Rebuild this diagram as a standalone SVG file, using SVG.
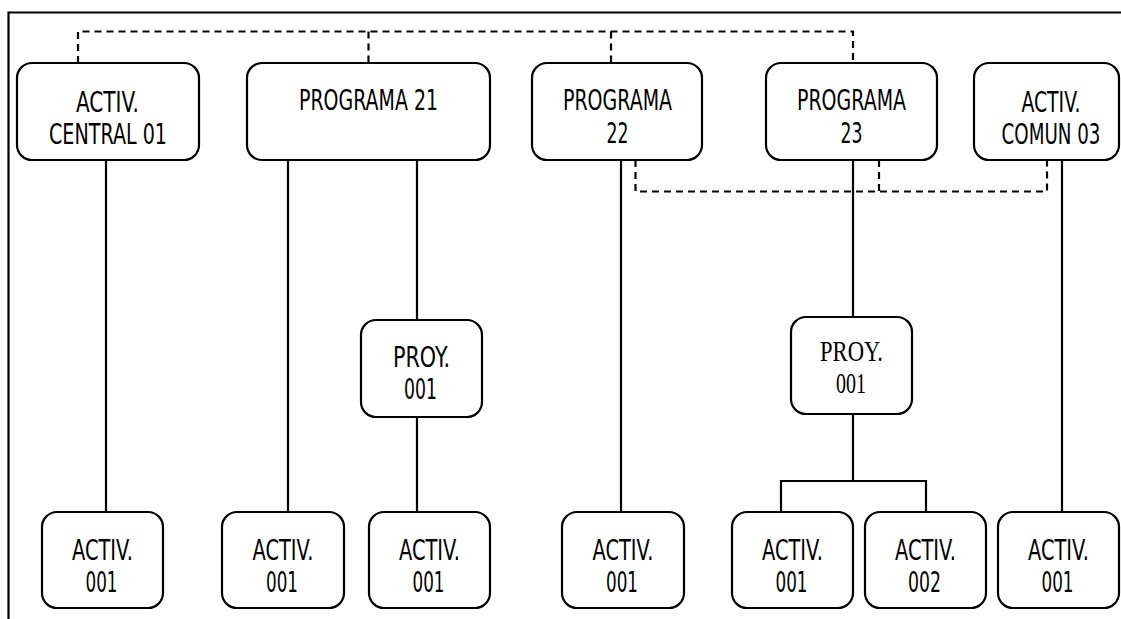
<svg xmlns="http://www.w3.org/2000/svg" width="1121" height="619" viewBox="0 0 1121 619">
<style>
.box{fill:#fff;stroke:#000;stroke-width:2.2}
.t{font-family:"DejaVu Sans","Liberation Sans",sans-serif;font-size:29px;fill:#000;text-anchor:middle}
.s{font-family:"Liberation Serif","DejaVu Serif",serif;font-size:29px;fill:#000;text-anchor:middle}
.ln{stroke:#000;stroke-width:2.2;fill:none}
.dl{stroke:#000;stroke-width:2.2;fill:none;stroke-dasharray:7 5}
</style>
<rect width="1121" height="619" fill="#fff"/>
<g id="frame">
<path class="ln" d="M8.5 619 V12.5 H1121"/>
</g>
<g id="connectors">
<path class="dl" d="M78 63 V31.5 H853 V63"/>
<path class="dl" d="M368.5 31.5 V63"/>
<path class="dl" d="M611 31.5 V63"/>
<path class="dl" d="M635.5 160 V191.5 H1047 V160"/>
<path class="dl" d="M879 160 V191.5"/>
<path class="ln" d="M106 160 V512"/>
<path class="ln" d="M288 160 V512"/>
<path class="ln" d="M417 160 V320"/>
<path class="ln" d="M417 417 V512"/>
<path class="ln" d="M621 160 V512"/>
<path class="ln" d="M853 160 V317"/>
<path class="ln" d="M853 414 V481 M781 512 V481 H926 V512"/>
<path class="ln" d="M1062 160 V512"/>
</g>
<g id="n-central01">
<rect class="box" x="17" y="63" width="182" height="97" rx="15"/>
<text class="t" x="107.5" y="112" textLength="63" lengthAdjust="spacingAndGlyphs">ACTIV.</text>
<text class="t" x="108" y="144" textLength="118" lengthAdjust="spacingAndGlyphs">CENTRAL 01</text>
</g>
<g id="n-prog21">
<rect class="box" x="247" y="63" width="243" height="97" rx="15"/>
<text class="t" x="368.5" y="110" textLength="139" lengthAdjust="spacingAndGlyphs">PROGRAMA 21</text>
</g>
<g id="n-prog22">
<rect class="box" x="532" y="63" width="170" height="97" rx="15"/>
<text class="t" x="617.5" y="110" textLength="109" lengthAdjust="spacingAndGlyphs">PROGRAMA</text>
<text class="t" x="617.5" y="143" textLength="22" lengthAdjust="spacingAndGlyphs">22</text>
</g>
<g id="n-prog23">
<rect class="box" x="766" y="63" width="171" height="97" rx="15"/>
<text class="t" x="851.5" y="110" textLength="109" lengthAdjust="spacingAndGlyphs">PROGRAMA</text>
<text class="t" x="851.5" y="143" textLength="22" lengthAdjust="spacingAndGlyphs">23</text>
</g>
<g id="n-comun03">
<rect class="box" x="974" y="63" width="145" height="97" rx="15"/>
<text class="t" transform="translate(1051,112) scale(0.65,1)">ACTIV.</text>
<text class="t" transform="translate(1051,144) scale(0.63,1)">COMUN 03</text>
</g>
<g id="n-proy21">
<rect class="box" x="361" y="320" width="121" height="97" rx="15"/>
<text class="t" x="421.5" y="367" textLength="57" lengthAdjust="spacingAndGlyphs">PROY.</text>
<text class="t" x="420.5" y="399" textLength="33" lengthAdjust="spacingAndGlyphs">001</text>
</g>
<g id="n-proy23">
<rect class="box" x="791" y="317" width="121" height="97" rx="15"/>
<text class="s" x="851.5" y="361" textLength="63" lengthAdjust="spacingAndGlyphs">PROY.</text>
<text class="s" x="851" y="393" textLength="30" lengthAdjust="spacingAndGlyphs">001</text>
</g>
<g id="n-a1">
<rect class="box" x="42" y="512" width="121" height="96" rx="15"/>
<text class="t" x="102.5" y="560" textLength="61" lengthAdjust="spacingAndGlyphs">ACTIV.</text>
<text class="t" x="101.5" y="592" textLength="32" lengthAdjust="spacingAndGlyphs">001</text>
</g>
<g id="n-a2">
<rect class="box" x="222" y="512" width="122" height="96" rx="15"/>
<text class="t" x="283" y="560" textLength="61" lengthAdjust="spacingAndGlyphs">ACTIV.</text>
<text class="t" x="282" y="592" textLength="32" lengthAdjust="spacingAndGlyphs">001</text>
</g>
<g id="n-a3">
<rect class="box" x="369" y="512" width="121" height="96" rx="15"/>
<text class="t" x="429.5" y="560" textLength="61" lengthAdjust="spacingAndGlyphs">ACTIV.</text>
<text class="t" x="428.5" y="592" textLength="32" lengthAdjust="spacingAndGlyphs">001</text>
</g>
<g id="n-a4">
<rect class="box" x="562" y="512" width="122" height="96" rx="15"/>
<text class="t" x="623" y="560" textLength="61" lengthAdjust="spacingAndGlyphs">ACTIV.</text>
<text class="t" x="622" y="592" textLength="32" lengthAdjust="spacingAndGlyphs">001</text>
</g>
<g id="n-a5">
<rect class="box" x="732" y="512" width="121" height="96" rx="15"/>
<text class="t" x="792.5" y="560" textLength="61" lengthAdjust="spacingAndGlyphs">ACTIV.</text>
<text class="t" x="791.5" y="592" textLength="32" lengthAdjust="spacingAndGlyphs">001</text>
</g>
<g id="n-a6">
<rect class="box" x="865" y="512" width="121" height="96" rx="15"/>
<text class="t" x="925.5" y="560" textLength="61" lengthAdjust="spacingAndGlyphs">ACTIV.</text>
<text class="t" x="924.5" y="592" textLength="33" lengthAdjust="spacingAndGlyphs">002</text>
</g>
<g id="n-a7">
<rect class="box" x="998" y="512" width="121" height="96" rx="15"/>
<text class="t" x="1058.5" y="560" textLength="61" lengthAdjust="spacingAndGlyphs">ACTIV.</text>
<text class="t" x="1057.5" y="592" textLength="32" lengthAdjust="spacingAndGlyphs">001</text>
</g>
</svg>
